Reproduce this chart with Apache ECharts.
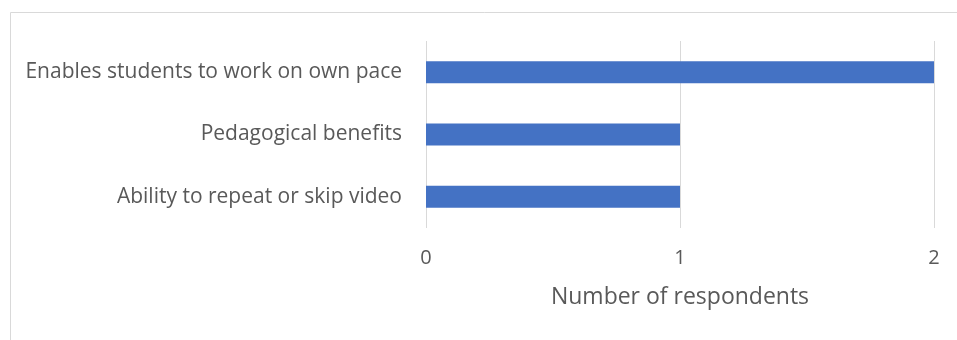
<!DOCTYPE html>
<html>
<head>
<meta charset="utf-8">
<style>
  html, body { margin: 0; padding: 0; background: #fff; }
  #chart { width: 957px; height: 340px; }
</style>
<script src="https://cdn.jsdelivr.net/npm/echarts@6/dist/echarts.min.js"></script>
</head>
<body>
<div id="chart"></div>
<script>
// Reasons given, listed bottom to top as the category axis draws them
const categories = [
  'Ability to repeat or skip video',
  'Pedagogical benefits',
  'Enables students to work on own pace'
];
const respondents = [1, 1, 2];
const axisTitle = 'Number of respondents';

const chart = echarts.init(document.getElementById('chart'));
const textFont = '"Open Sans", "Noto Sans", sans-serif';

chart.setOption({
  animation: false,
  graphic: [{
    type: 'rect',
    shape: { x: 10.5, y: 12.5, width: 1000, height: 500 },
    style: { fill: 'none', stroke: '#d9d9d9', lineWidth: 1 },
    silent: true
  }],
  grid: { left: 426, top: 41, width: 508, height: 187 },
  xAxis: {
    type: 'value',
    min: 0,
    max: 2,
    interval: 1,
    name: axisTitle,
    nameLocation: 'middle',
    nameGap: 58,
    nameTextStyle: { color: '#595959', fontSize: 23, fontFamily: textFont },
    axisLine: { show: false },
    axisTick: { show: false },
    axisLabel: { color: '#595959', fontSize: 20, fontFamily: textFont, margin: 20 },
    splitLine: { show: true, lineStyle: { color: '#d9d9d9', width: 1 } }
  },
  yAxis: {
    type: 'category',
    data: categories,
    axisLine: { show: false },
    axisTick: { show: false },
    axisLabel: { color: '#595959', fontSize: 21, fontFamily: textFont, margin: 24 }
  },
  series: [{
    type: 'bar',
    data: respondents,
    barWidth: 22,
    itemStyle: { color: '#4472c4' }
  }]
});
</script>
</body>
</html>
